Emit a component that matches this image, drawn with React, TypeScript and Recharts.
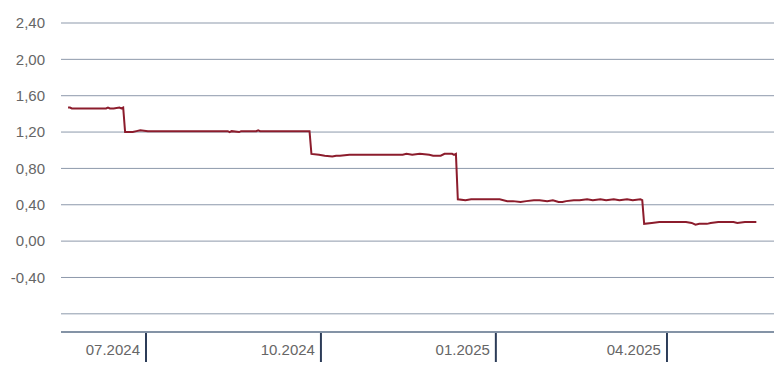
import { CartesianGrid, Line, LineChart, XAxis, YAxis } from "recharts";

// daily fixing
const dates = [
  "2024-05-21", "2024-05-22", "2024-05-23", "2024-05-28", "2024-06-03", "2024-06-10",
  "2024-06-11", "2024-06-12", "2024-06-14", "2024-06-17", "2024-06-18", "2024-06-19",
  "2024-06-20", "2024-06-24", "2024-06-26", "2024-06-28", "2024-07-02", "2024-07-15",
  "2024-08-01", "2024-08-13", "2024-08-14", "2024-08-15", "2024-08-19", "2024-08-20",
  "2024-08-28", "2024-08-29", "2024-08-30", "2024-09-10", "2024-09-25",
  "2024-09-26", "2024-09-30", "2024-10-03", "2024-10-07", "2024-10-09", "2024-10-11",
  "2024-10-16", "2024-10-25", "2024-11-05", "2024-11-13", "2024-11-15", "2024-11-18",
  "2024-11-22", "2024-11-27", "2024-11-29", "2024-12-03", "2024-12-05", "2024-12-09",
  "2024-12-10", "2024-12-11",
  "2024-12-12", "2024-12-16", "2024-12-19", "2024-12-23", "2024-12-30", "2025-01-03",
  "2025-01-07", "2025-01-10", "2025-01-14", "2025-01-17", "2025-01-21", "2025-01-24",
  "2025-01-28", "2025-01-31", "2025-02-03", "2025-02-05", "2025-02-07", "2025-02-11",
  "2025-02-14", "2025-02-18", "2025-02-21", "2025-02-25", "2025-02-28", "2025-03-04",
  "2025-03-07", "2025-03-11", "2025-03-14", "2025-03-18", "2025-03-19",
  "2025-03-20", "2025-03-24", "2025-03-28", "2025-04-03", "2025-04-09", "2025-04-11",
  "2025-04-14", "2025-04-16", "2025-04-18", "2025-04-22", "2025-04-24", "2025-04-28",
  "2025-05-02", "2025-05-06", "2025-05-08", "2025-05-12", "2025-05-16", "2025-05-18",
];

const saron = [
  1.47, 1.47, 1.46, 1.46, 1.46, 1.46,
  1.47, 1.46, 1.46, 1.47, 1.46, 1.47,
  1.2, 1.2, 1.21, 1.22, 1.21, 1.21,
  1.21, 1.21, 1.2, 1.21, 1.2, 1.21,
  1.21, 1.22, 1.21, 1.21, 1.21,
  0.96, 0.95, 0.94, 0.93, 0.94, 0.94,
  0.95, 0.95, 0.95, 0.95, 0.96, 0.95,
  0.96, 0.95, 0.94, 0.94, 0.96, 0.96,
  0.95, 0.96,
  0.46, 0.45, 0.46, 0.46, 0.46, 0.46,
  0.44, 0.44, 0.43, 0.44, 0.45, 0.45,
  0.44, 0.45, 0.43, 0.43, 0.44, 0.45,
  0.45, 0.46, 0.45, 0.46, 0.45, 0.46,
  0.45, 0.46, 0.45, 0.46, 0.45,
  0.19, 0.2, 0.21, 0.21, 0.21, 0.21,
  0.2, 0.18, 0.19, 0.19, 0.2, 0.21,
  0.21, 0.21, 0.2, 0.21, 0.21, 0.21,
];

const yTicks = [-0.8, -0.4, 0, 0.4, 0.8, 1.2, 1.6, 2.0, 2.4];
const xTickDates = ["2024-07-01", "2024-10-01", "2025-01-01", "2025-04-01"];

const data = dates.map((d, i) => ({ t: Date.parse(d), value: saron[i] }));
const xTicks = xTickDates.map((d) => Date.parse(d));
const xDomain = [Date.parse("2024-05-17T07:00:00Z"), Date.parse("2025-05-27T07:00:00Z")];

const FONT = '"Liberation Sans", Arial, Helvetica, sans-serif';

function monthLabel(t: number): string {
  const d = new Date(t);
  const m = String(d.getUTCMonth() + 1).padStart(2, "0");
  return `${m}.${d.getUTCFullYear()}`;
}

function XTick({ x, y, payload }: any) {
  return (
    <g>
      <line x1={x} x2={x} y1={y + 1} y2={y + 30} stroke="#2c3c58" strokeWidth={2} />
      <text
        x={x - 6}
        y={y + 23}
        textAnchor="end"
        fill="#666"
        fontSize={15}
        fontFamily={FONT}
      >
        {monthLabel(payload.value)}
      </text>
    </g>
  );
}

export default function App() {
  return (
    <div style={{ position: "absolute", left: 0, top: 0, background: "#fff" }}>
      <LineChart
        width={774}
        height={373}
        data={data}
        margin={{ top: 23, right: 0, bottom: 0, left: 0 }}
      >
        <CartesianGrid stroke="#8d99ab" vertical={false} />
        <XAxis
          dataKey="t"
          type="number"
          scale="time"
          domain={xDomain}
          ticks={xTicks}
          height={41}
          stroke="#8493a6"
          strokeWidth={2}
          tickLine={false}
          tickSize={0}
          tickMargin={0}
          tick={<XTick />}
          interval={0}
        />
        <YAxis
          domain={[-1, 2.4]}
          ticks={yTicks}
          width={61}
          axisLine={false}
          tickLine={false}
          tickSize={0}
          tickMargin={16}
          interval={0}
          tick={{ fill: "#666", fontSize: 15, fontFamily: FONT }}
          tickFormatter={(v: number) =>
            Math.abs(v + 0.8) < 1e-6 ? "" : v.toFixed(2).replace(".", ",")
          }
        />
        <Line
          type="linear"
          dataKey="value"
          stroke="#8c1c2c"
          strokeWidth={2}
          dot={false}
          activeDot={false}
          isAnimationActive={false}
        />
      </LineChart>
    </div>
  );
}
